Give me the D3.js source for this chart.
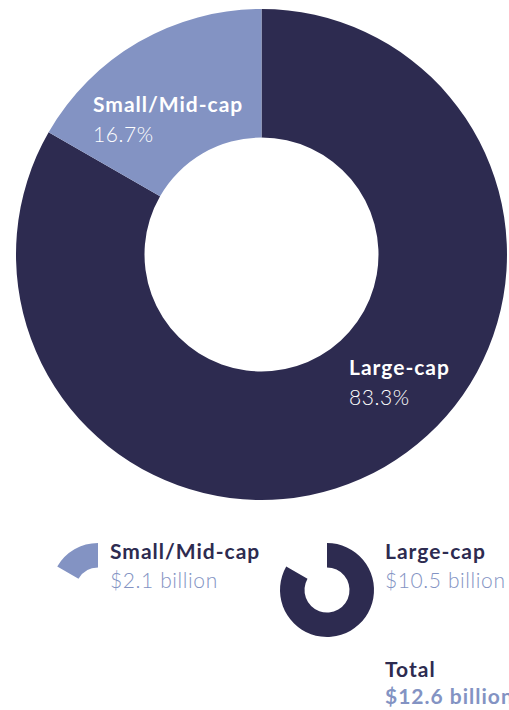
<!DOCTYPE html>
<html>
<head>
<meta charset="utf-8">
<script src="https://cdn.jsdelivr.net/npm/d3@7/dist/d3.min.js"></script>
<style>
  html, body { margin: 0; padding: 0; background: #ffffff; }
  svg { display: block; }
  text { font-family: Lato, "Noto Sans", sans-serif; }
  .head { font-size: 21px; font-weight: 700; letter-spacing: 1px; }
  .value { font-size: 21px; font-weight: 300; letter-spacing: 0.6px; }
</style>
</head>
<body>
<svg id="chart" width="509" height="710"></svg>
<script>
// Assets by market capitalisation
const categories = ["Large-cap", "Small/Mid-cap"];
const shares = [83.3, 16.7];          // percent of total
const amounts = [10.5, 2.1];          // $ billion
const colors = ["#2d2b50", "#8393c3"];
const totalLabel = "Total";

const svg = d3.select("#chart");

const pie = d3.pie().sort(null).value(d => d.share);
const data = categories.map((c, i) => ({ name: c, share: shares[i], amount: amounts[i], color: colors[i] }));
const arcs = pie(data);

// Main donut
const cx = 261.5, cy = 254.5, rOuter = 245.5, rInner = 117;
const arc = d3.arc().innerRadius(rInner).outerRadius(rOuter);

const donut = svg.append("g").attr("transform", `translate(${cx},${cy})`);
donut.selectAll("path")
  .data(arcs)
  .join("path")
  .attr("d", arc)
  .attr("fill", d => d.data.color);

// In-ring labels
const ringLabels = [
  { name: "Large-cap", x: 349, y: 375 },
  { name: "Small/Mid-cap", x: 93, y: 112 }
];
ringLabels.forEach(l => {
  const d = data.find(e => e.name === l.name);
  svg.append("text")
    .attr("class", "head")
    .attr("x", l.x).attr("y", l.y)
    .attr("fill", "#ffffff")
    .text(d.name);
  svg.append("text")
    .attr("class", "value")
    .attr("x", l.x).attr("y", l.y + 30)
    .attr("fill", "#ffffff")
    .text(d3.format(".1f")(d.share) + "%");
});

// Legend with miniature slices
const iconArc = d3.arc().innerRadius(22.5).outerRadius(47);
const legendItems = [
  { name: "Small/Mid-cap", ix: 98, iy: 590, tx: 110 },
  { name: "Large-cap", ix: 327, iy: 590, tx: 385 }
];
legendItems.forEach(item => {
  const a = arcs.find(e => e.data.name === item.name);
  svg.append("path")
    .attr("transform", `translate(${item.ix},${item.iy})`)
    .attr("d", iconArc(a))
    .attr("fill", a.data.color);
  svg.append("text")
    .attr("class", "head")
    .attr("x", item.tx).attr("y", 559)
    .attr("fill", "#2d2b50")
    .text(item.name);
  svg.append("text")
    .attr("class", "value")
    .attr("x", item.tx).attr("y", 588)
    .attr("fill", "#8393c3")
    .text("$" + d3.format(".1f")(a.data.amount) + " billion");
});

// Total
const total = d3.sum(amounts);
svg.append("text")
  .attr("class", "head")
  .attr("x", 385).attr("y", 677)
  .attr("fill", "#2d2b50")
  .text(totalLabel);
svg.append("text")
  .attr("class", "head")
  .attr("x", 385).attr("y", 704)
  .attr("fill", "#8393c3")
  .text("$" + d3.format(".1f")(total) + " billion");
</script>
</body>
</html>
